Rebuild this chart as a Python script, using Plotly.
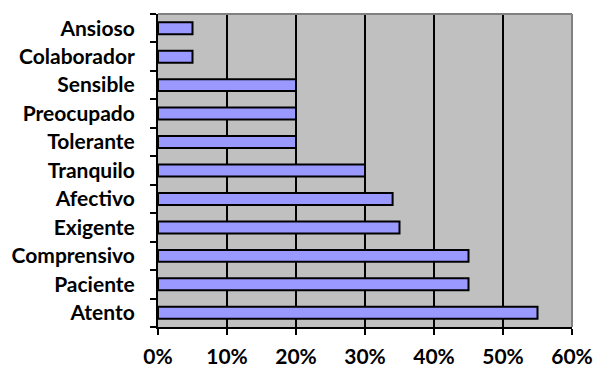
import plotly.graph_objects as go

categories = ["Atento", "Paciente", "Comprensivo", "Exigente", "Afectivo", "Tranquilo",
              "Tolerante", "Preocupado", "Sensible", "Colaborador", "Ansioso"]
values = [55, 45, 45, 35, 34, 30, 20, 20, 20, 5, 5]
x_ticks = [0, 10, 20, 30, 40, 50, 60]
x_tick_labels = ["0%", "10%", "20%", "30%", "40%", "50%", "60%"]

font_family = "Lato"
label_font = dict(family=font_family, size=21, color="black", weight="bold")

fig = go.Figure(
    go.Bar(
        x=values,
        y=categories,
        orientation="h",
        marker=dict(color="#9999FF", line=dict(color="black", width=2)),
        width=0.42,
        hoverinfo="x+y",
    )
)

fig.update_layout(
    template="none",
    width=597,
    height=374,
    margin=dict(l=158, r=25, t=14, b=47, pad=0),
    paper_bgcolor="white",
    plot_bgcolor="#C0C0C0",
    showlegend=False,
    font=dict(family=font_family, size=21, color="black"),
)

fig.update_xaxes(
    automargin=False,
    range=[0, 60],
    tickvals=x_ticks,
    ticktext=x_tick_labels,
    tickfont=label_font,
    ticks="outside",
    ticklen=6,
    tickwidth=2,
    tickcolor="black",
    ticklabelstandoff=4,
    showgrid=True,
    gridcolor="black",
    gridwidth=2,
    showline=True,
    linecolor="black",
    linewidth=2,
    zeroline=False,
    mirror=False,
)

fig.update_yaxes(
    automargin=False,
    categoryorder="array",
    categoryarray=categories,
    tickson="boundaries",
    tickfont=label_font,
    ticks="outside",
    ticklen=6,
    tickwidth=2,
    tickcolor="black",
    ticklabelstandoff=17,
    showgrid=False,
    showline=True,
    linecolor="black",
    linewidth=2,
    zeroline=False,
)

# grey frame on the top and right edges of the plot area
fig.add_shape(type="line", xref="paper", yref="paper", x0=0, x1=1, y0=1, y1=1,
              line=dict(color="#808080", width=2))
fig.add_shape(type="line", xref="paper", yref="paper", x0=1, x1=1, y0=0, y1=1,
              line=dict(color="#808080", width=2))

fig.write_html("out.html")
